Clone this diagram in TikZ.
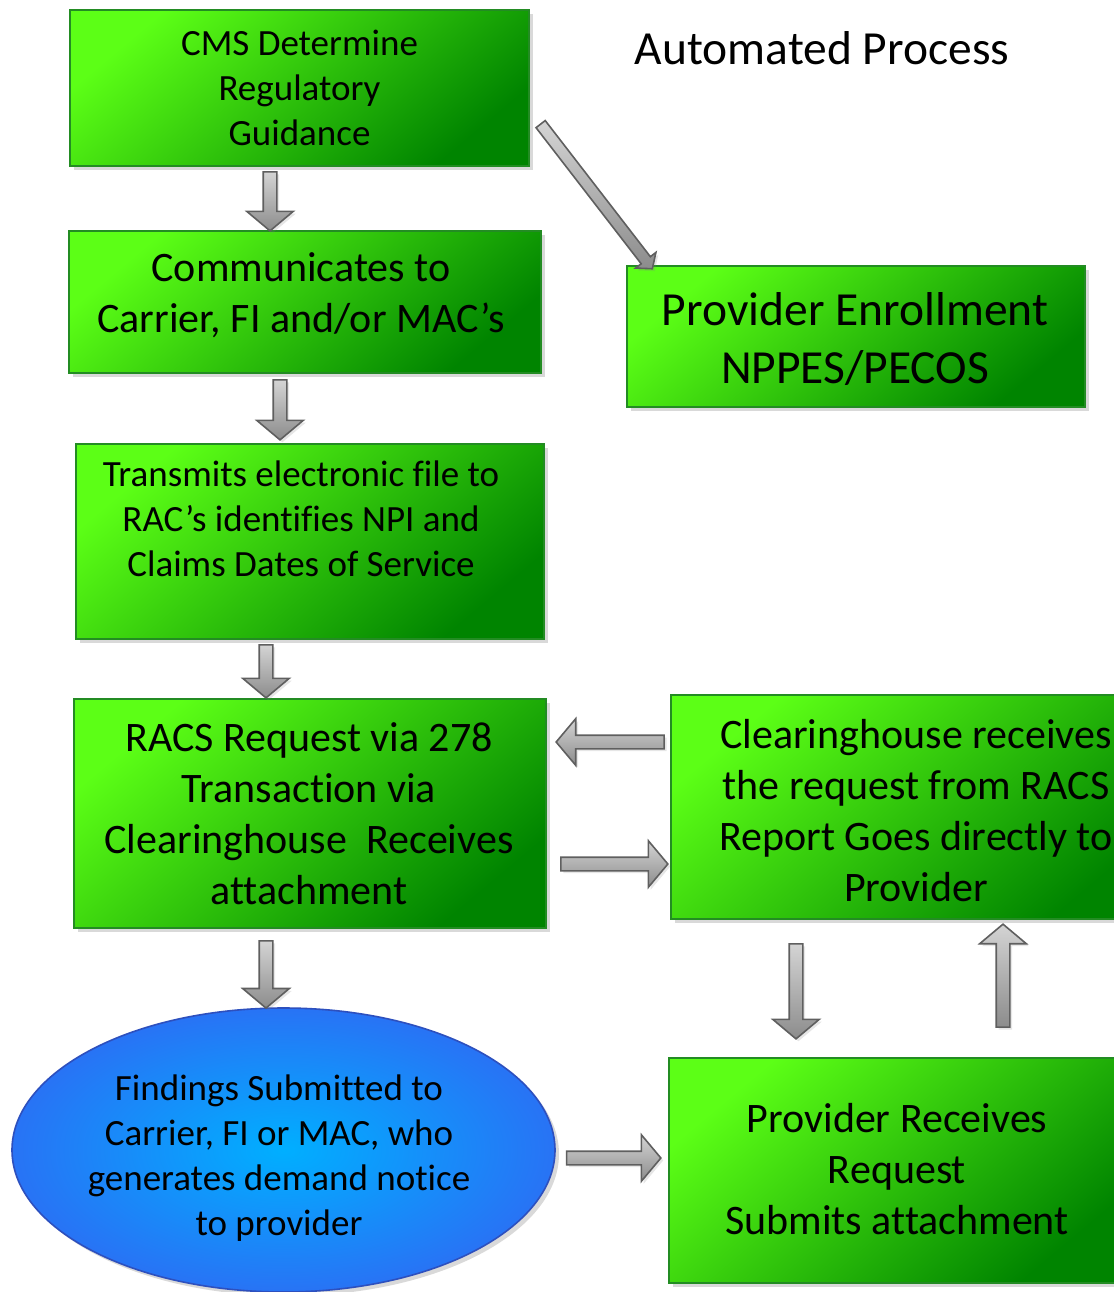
\documentclass[tikz,border=0pt]{standalone}
\usepackage{fontspec}
\setmainfont{Carlito}[Ligatures={NoCommon,NoContextual}]
\usetikzlibrary{shapes.geometric,shapes.arrows,shadows,calc}
\definecolor{glight}{RGB}{92,255,22}
\definecolor{gdark}{RGB}{0,132,0}
\definecolor{gedge}{RGB}{35,140,35}
\definecolor{blight}{RGB}{0,175,255}
\definecolor{bdark}{RGB}{40,115,245}
\definecolor{bedge}{RGB}{45,80,190}
\definecolor{aedge}{RGB}{95,95,95}
\definecolor{alight}{RGB}{212,212,212}
\definecolor{adark}{RGB}{140,140,140}
\newcommand\barr[4]{\path let \p1=($(#3)-(#2)$), \n1={veclen(\x1,\y1)} in (#2) -- (#3) node[midway, sloped, allow upside down, barrow, #4, minimum height=\n1, name=#1] {};}
\begin{document}
\begin{tikzpicture}[x=0.5pt,y=-0.5pt,
  gbox/.style={draw=gedge, line width=1pt, top color=glight, bottom color=gdark, shading angle=40,
    inner sep=0pt, drop shadow={shadow xshift=2pt, shadow yshift=-2pt, opacity=0.3}},
  ebox/.style={ellipse, draw=bedge, line width=0.8pt, inner color=blight, outer color=bdark,
    inner sep=0pt, drop shadow={shadow xshift=2pt, shadow yshift=-2pt, opacity=0.3}},
  barrow/.style={single arrow, draw=aedge, line width=0.8pt, inner xsep=0pt, inner ysep=3pt,
    top color=alight, bottom color=adark, single arrow tip angle=100,
    minimum width=22.5pt, single arrow head extend=8.25pt,
    drop shadow={shadow xshift=1.2pt, shadow yshift=-1.2pt, opacity=0.2}},
  thin arrow/.style={inner ysep=2.5pt, minimum width=12pt, single arrow head extend=3.5pt},
  txt/.style={align=center, text=black, inner sep=0pt},
  fa/.style={font=\fontsize{18.5pt}{22.5pt}\selectfont},
  fb/.style={font=\fontsize{21pt}{25.5pt}\selectfont},
  fc/.style={font=\fontsize{23.75pt}{29pt}\selectfont}]
\useasboundingbox (0,0) rectangle (1114,1292);
\clip (0,0) rectangle (1114,1292);
% boxes
\node[gbox, minimum width=229.5pt, minimum height=78pt] (b1) at (299.5,88) {};
\node[gbox, minimum width=236pt, minimum height=71pt] (b2) at (305,302) {};
\node[gbox, minimum width=234pt, minimum height=97.5pt] (b3) at (310,541.5) {};
\node[gbox, minimum width=236pt, minimum height=114.5pt] (b4) at (310,813.5) {};
\node[gbox, minimum width=229pt, minimum height=70.5pt] (pe) at (856,336.5) {};
\node[gbox, minimum width=245pt, minimum height=112pt] (ch) at (916,807) {};
\node[gbox, minimum width=228pt, minimum height=112.5pt] (pr) at (897,1170.5) {};
\node[ebox, minimum width=271.5pt, minimum height=142pt] (el) at (283.5,1150) {};
% texts
\node[txt, fc] (title) at (822,48) {Automated Process};
\node[txt, fa] (t1) at (b1.center) {CMS Determine\\Regulatory\\Guidance};
\node[txt, fb] (t2) at ($(b2.center)+(-4,-6.5)$) {Communicates to\\Carrier, FI and/or MAC’s};
\node[txt, fa] (t3) at ($(b3.center)+(-9,-22.5)$) {Transmits electronic file to\\RAC’s identifies NPI and\\Claims Dates of Service};
\node[txt, fb] (t4) at ($(b4.center)+(-1,0)$) {RACS Request via 278\\Transaction via\\Clearinghouse\ \ Receives\\attachment};
\node[txt, fb] (t5) at ($(ch.center)+(0,3.5)$) {Clearinghouse receives\\the request from RACS\\Report Goes directly to\\Provider};
\node[txt, fc] (t6) at ($(pe.center)+(-1,2.5)$) {Provider Enrollment\\NPPES/PECOS};
\node[txt, fb] (t7) at ($(pr.center)+(0,-1)$) {Provider Receives\\Request\\Submits attachment};
\node[txt, fa] (t8) at ($(el.center)+(-4.5,8.5)$) {Findings Submitted to\\Carrier, FI or MAC, who\\generates demand notice\\to provider};
% connector end points
\coordinate (a1s) at ($(b1.south)+(-29.5,2)$);
\coordinate (a1e) at ($(b2.north)+(-35,-2)$);
\coordinate (a2s) at ($(b2.south)+(-25,3)$);
\coordinate (a2e) at ($(b3.north)+(-30,-6)$);
\coordinate (a3s) at ($(b3.south)+(-44,2)$);
\coordinate (a3e) at ($(b4.north)+(-44,-3)$);
\coordinate (a4s) at ($(b4.south)+(-44,9)$);
\coordinate (a4e) at ($(el.north)+(-17.5,-2)$);
\coordinate (a5s) at ($(b1.east)+(9,34)$);
\coordinate (a5e) at ($(pe.north west)+(25,2)$);
\coordinate (a6s) at ($(ch.west)+(-3,-65)$);
\coordinate (a6e) at ($(b4.east)+(12,-71.5)$);
\coordinate (a7s) at ($(b4.east)+(11,50.5)$);
\coordinate (a7e) at ($(ch.west)+(-5,57)$);
\coordinate (a8s) at ($(ch.south)+(-120,21)$);
\coordinate (a8e) at ($(pr.north)+(-101,-21)$);
\coordinate (a9s) at ($(pr.north)+(106,-27)$);
\coordinate (a9e) at ($(ch.south)+(87,7)$);
\coordinate (a10s) at ($(el.east)+(8,8)$);
\coordinate (a10e) at ($(pr.west)+(-10,-12.5)$);
% connectors
\barr{c1}{a1s}{a1e}{}
\barr{c2}{a2s}{a2e}{}
\barr{c3}{a3s}{a3e}{}
\barr{c4}{a4s}{a4e}{}
\barr{c5}{a5s}{a5e}{thin arrow}
\barr{c6}{a6s}{a6e}{}
\barr{c7}{a7s}{a7e}{}
\barr{c8}{a8s}{a8e}{}
\barr{c9}{a9s}{a9e}{}
\barr{c10}{a10s}{a10e}{}
\end{tikzpicture}
\end{document}
